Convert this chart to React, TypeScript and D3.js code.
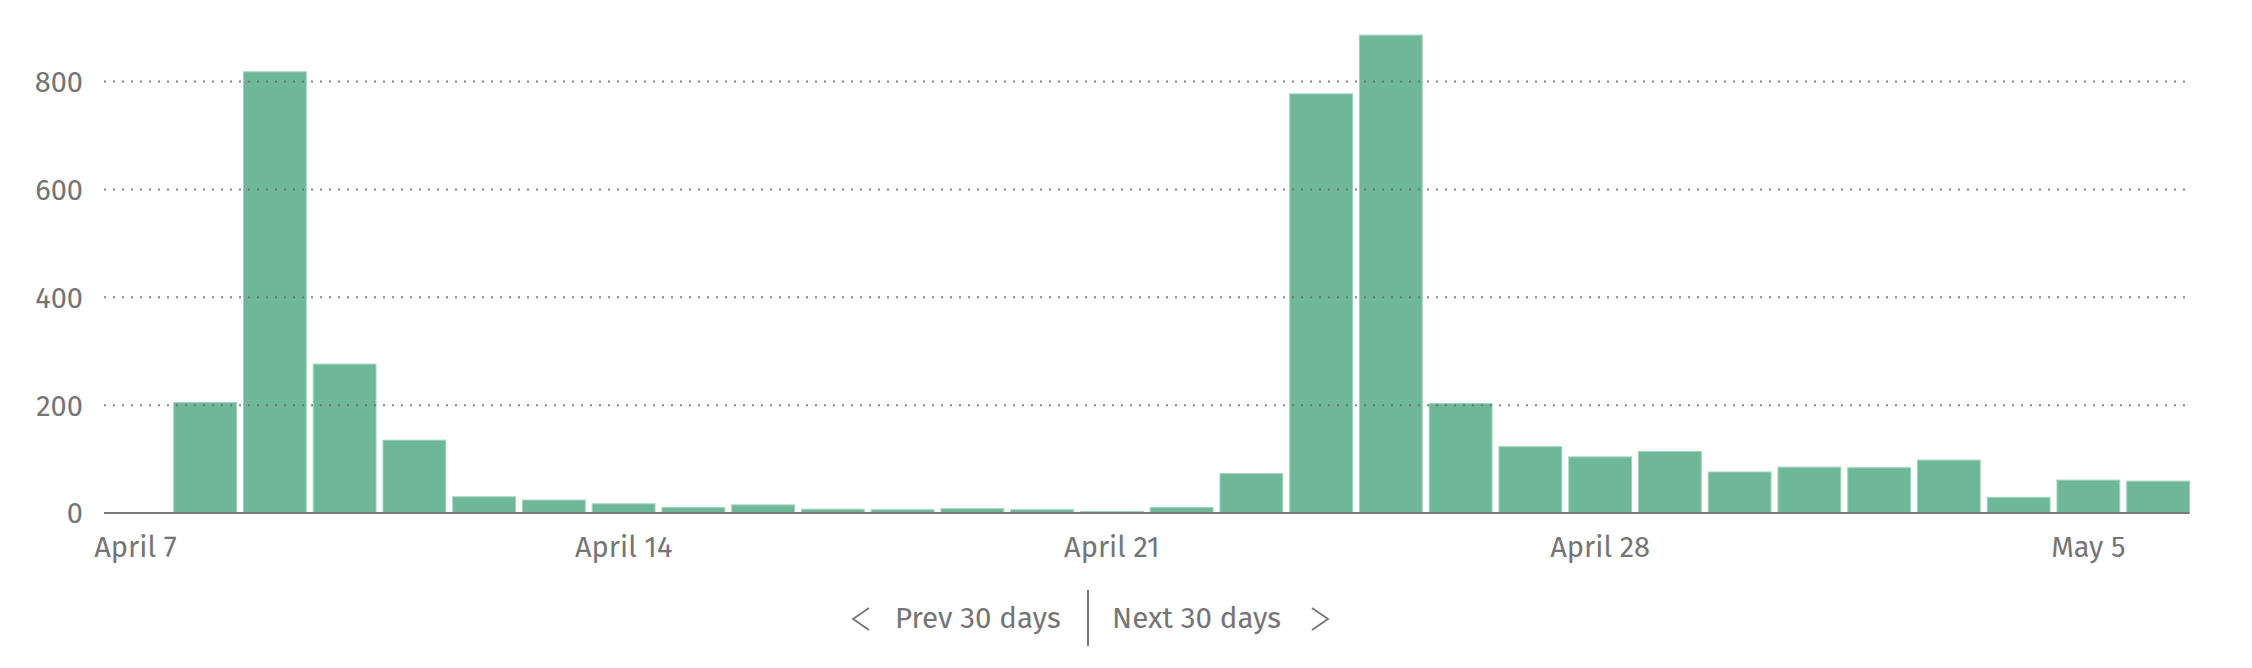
import React from "react";
import * as d3 from "d3";

// daily views, April 7 .. May 6
const days = [
  "April 7", "April 8", "April 9", "April 10", "April 11", "April 12", "April 13",
  "April 14", "April 15", "April 16", "April 17", "April 18", "April 19", "April 20",
  "April 21", "April 22", "April 23", "April 24", "April 25", "April 26", "April 27",
  "April 28", "April 29", "April 30", "May 1", "May 2", "May 3", "May 4",
  "May 5", "May 6",
];
const views = [
  0, 205, 818, 276, 135, 30, 24,
  17, 10, 15, 7, 6, 8, 6,
  3, 10, 73, 777, 886, 203, 123,
  104, 114, 76, 85, 84, 98, 29,
  61, 59,
];
const xTickLabels = ["April 7", "April 14", "April 21", "April 28", "May 5"];
const yTicks = [0, 200, 400, 600, 800];

const W = 2252;
const H = 668;
const FONT = "'Fira Sans', 'Open Sans', sans-serif";
const GREY = "#757575";

export default function App() {
  const x = d3
    .scaleBand<string>()
    .domain(days)
    .range([100.5, 2193])
    .paddingInner(0.1)
    .paddingOuter(0.05);

  const y = d3.scaleLinear().domain([0, 800]).range([513, 81.5]);

  const x0 = x(days[0])!;
  const x1 = x(days[days.length - 1])! + x.bandwidth();

  // nav chevrons
  const chevH = 11;
  const chevW = 16;
  const navY = 619;

  return (
    <div style={{ position: "absolute", left: 0, top: 0 }}>
      <svg width={W} height={H} style={{ display: "block", background: "#fff" }}>
        {views.map((v, i) => (
          <rect
            key={days[i]}
            x={x(days[i])}
            y={y(v)}
            width={x.bandwidth()}
            height={y(0) - y(v)}
            fill="#6eb799"
            stroke="#9fd2ba"
            strokeWidth={1}
          />
        ))}

        {/* dotted grid on top of bars */}
        {yTicks
          .filter((t) => t > 0)
          .map((t) => (
            <line
              key={t}
              x1={x0}
              x2={x1}
              y1={y(t)}
              y2={y(t)}
              stroke="#666"
              strokeOpacity={0.8}
              strokeWidth={2}
              strokeDasharray="2,7"
            />
          ))}

        <line x1={x0} x2={x1} y1={y(0)} y2={y(0)} stroke="#7a7a7a" strokeWidth={2} />

        {yTicks.map((t) => (
          <text
            key={t}
            x={83}
            y={y(t)}
            dy="0.36em"
            textAnchor="end"
            fontFamily={FONT}
            fontSize={29}
            fill={GREY}
          >
            {t}
          </text>
        ))}

        {xTickLabels.map((d) => (
          <text
            key={d}
            x={x(d)! + x.bandwidth() / 2}
            y={557}
            textAnchor="middle"
            fontFamily={FONT}
            fontSize={29}
            fill={GREY}
          >
            {d}
          </text>
        ))}

        {/* Prev / Next navigation */}
        <path
          d={`M${853 + chevW},${navY - chevH} L853,${navY} L${853 + chevW},${navY + chevH}`}
          fill="none"
          stroke={GREY}
          strokeWidth={1.8}
        />
        <text x={895} y={628} fontFamily={FONT} fontSize={29.5} fill={GREY}>
          Prev 30 days
        </text>
        <line x1={1088} x2={1088} y1={590} y2={646} stroke={GREY} strokeWidth={2} />
        <text x={1112} y={628} fontFamily={FONT} fontSize={29.5} fill={GREY}>
          Next 30 days
        </text>
        <path
          d={`M1312,${navY - chevH} L${1312 + chevW},${navY} L1312,${navY + chevH}`}
          fill="none"
          stroke={GREY}
          strokeWidth={1.8}
        />
      </svg>
    </div>
  );
}
